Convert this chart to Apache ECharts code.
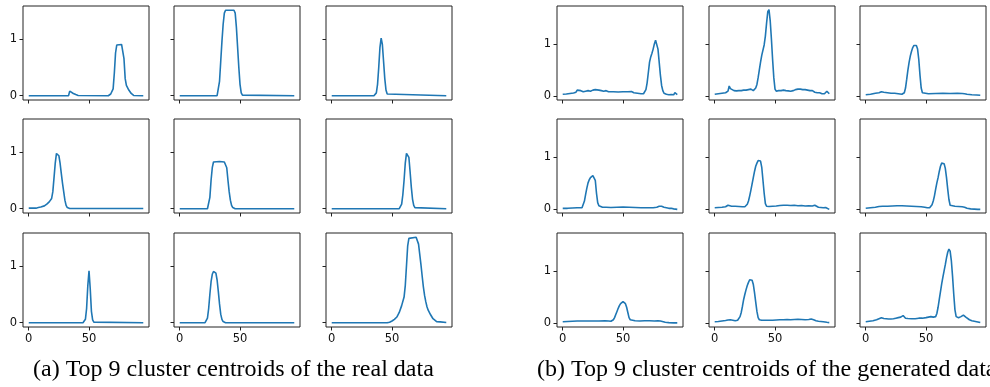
<!DOCTYPE html>
<html>
<head>
<meta charset="utf-8">
<script src="https://cdn.jsdelivr.net/npm/echarts@6/dist/echarts.min.js"></script>
<style>
  html, body { margin: 0; padding: 0; background: #fff; }
  #main { width: 990px; height: 387px; }
</style>
</head>
<body>
<div id="main"></div>
<script>
// centroid curves, [x, y] pairs
var real1 = [[0,0],[33,0],[34,0.08],[35,0.07],[37,0.04],[39,0.02],[41,0.005],[42,0],[66,0],[68,0.03],[70,0.12],[71,0.4],[72,0.75],[73,0.89],[74,0.9],[77,0.9],[78,0.88],[79,0.65],[80,0.3],[81,0.18],[83,0.1],[85,0.04],[87,0.005],[95,0]];
var real2 = [[0,0],[31,0],[32,0.02],[33,0.25],[34,0.6],[35,0.95],[36,1.25],[37,1.45],[38,1.5],[45,1.5],[46,1.45],[47,1.2],[48,0.85],[49,0.5],[50,0.2],[51,0.05],[52,0.01],[95,0]];
var real3 = [[0,0],[35,0],[36,0.01],[37,0.05],[38,0.2],[39,0.5],[40,0.85],[41,1.01],[42,0.9],[43,0.6],[44,0.3],[45,0.1],[46,0.03],[47,0],[95,0]];
var real4 = [[0,0.01],[6,0.01],[8,0.02],[10,0.03],[13,0.05],[15,0.08],[17,0.12],[19,0.18],[20,0.3],[21,0.55],[22,0.8],[23,0.97],[24,1.0],[25,0.93],[26,0.8],[27,0.62],[28,0.45],[29,0.3],[30,0.15],[31,0.06],[32,0.02],[34,0.005],[95,0.005]];
var real5 = [[0,0],[23,0],[24,0.03],[25,0.2],[26,0.5],[27,0.72],[28,0.82],[29,0.84],[33,0.83],[37,0.82],[38,0.8],[39,0.72],[40,0.5],[41,0.3],[42,0.15],[43,0.06],[44,0.02],[46,0],[95,0]];
var real6 = [[0,0],[56,0],[57,0.02],[58,0.08],[59,0.25],[60,0.5],[61,0.8],[62,0.97],[63,1.0],[64,0.9],[65,0.65],[66,0.38],[67,0.17],[68,0.06],[69,0.02],[70,0],[95,0]];
var real7 = [[0,0],[45,0],[46,0.01],[47,0.06],[48,0.25],[49,0.65],[50,0.91],[51,0.6],[52,0.2],[53,0.05],[54,0.01],[55,0],[95,0]];
var real8 = [[0,0],[21,0],[22,0.02],[23,0.08],[24,0.25],[25,0.5],[26,0.72],[27,0.85],[28,0.9],[29,0.9],[30,0.87],[31,0.75],[32,0.55],[33,0.33],[34,0.15],[35,0.06],[36,0.02],[38,0],[95,0]];
var real9 = [[0,0],[46,0],[48,0.01],[50,0.03],[52,0.06],[54,0.1],[56,0.18],[58,0.3],[60,0.45],[61,0.65],[62,1.0],[63,1.35],[64,1.48],[65,1.5],[70,1.5],[71,1.48],[72,1.38],[73,1.2],[74,1.02],[75,0.82],[76,0.63],[77,0.48],[78,0.37],[79,0.28],[80,0.22],[82,0.14],[84,0.07],[85,0.04],[87,0.02],[90,0.015],[95,0.005]];

var gen1 = [[0,0.03],[3,0.035],[6,0.045],[9,0.055],[11,0.07],[12,0.11],[13,0.09],[15,0.1],[17,0.08],[19,0.09],[21,0.1],[23,0.09],[25,0.11],[27,0.12],[28,0.13],[30,0.11],[32,0.1],[34,0.09],[36,0.1],[38,0.08],[42,0.08],[46,0.075],[50,0.08],[54,0.08],[57,0.085],[59,0.06],[62,0.05],[65,0.04],[67,0.04],[68,0.06],[69,0.12],[70,0.25],[71,0.45],[72,0.65],[73,0.75],[74,0.82],[75,0.9],[76,1.0],[77,1.07],[78,1.05],[79,0.9],[80,0.65],[81,0.4],[82,0.2],[83,0.1],[84,0.05],[86,0.03],[88,0.02],[90,0.025],[92,0.02],[93,0.06],[94,0.04],[95,0.025]];
var gen2 = [[0,0.03],[3,0.04],[6,0.05],[9,0.06],[11,0.09],[12,0.19],[13,0.14],[14,0.11],[16,0.1],[18,0.095],[20,0.1],[22,0.1],[24,0.11],[26,0.11],[28,0.12],[29,0.15],[30,0.13],[31,0.11],[32,0.1],[33,0.12],[34,0.15],[35,0.22],[36,0.35],[37,0.5],[38,0.65],[39,0.78],[40,0.88],[41,0.98],[42,1.15],[43,1.4],[44,1.62],[45,1.66],[46,1.45],[47,1.1],[48,0.7],[49,0.35],[50,0.13],[51,0.09],[53,0.1],[55,0.1],[57,0.11],[59,0.1],[61,0.095],[63,0.09],[65,0.1],[67,0.12],[69,0.13],[71,0.13],[73,0.12],[75,0.12],[77,0.11],[79,0.1],[81,0.1],[83,0.07],[85,0.06],[87,0.06],[89,0.04],[91,0.04],[92,0.03],[93,0.09],[94,0.07],[95,0.04]];
var gen3 = [[0,0.02],[4,0.03],[8,0.05],[11,0.06],[13,0.08],[15,0.07],[18,0.06],[21,0.05],[24,0.05],[27,0.04],[30,0.03],[31,0.03],[32,0.06],[33,0.15],[34,0.32],[35,0.5],[36,0.65],[37,0.77],[38,0.86],[39,0.93],[40,0.97],[41,0.99],[42,0.97],[43,0.9],[44,0.7],[45,0.4],[46,0.15],[47,0.06],[48,0.045],[52,0.04],[58,0.045],[64,0.05],[70,0.045],[76,0.05],[80,0.045],[82,0.04],[84,0.03],[88,0.02],[92,0.015],[95,0.01]];
var gen4 = [[0,0.01],[4,0.01],[8,0.015],[12,0.02],[16,0.02],[17,0.05],[18,0.15],[19,0.28],[20,0.4],[21,0.5],[22,0.56],[23,0.6],[24,0.62],[25,0.64],[26,0.66],[27,0.55],[28,0.3],[29,0.12],[30,0.06],[31,0.04],[33,0.03],[36,0.03],[40,0.025],[45,0.03],[50,0.035],[55,0.03],[60,0.025],[65,0.02],[70,0.02],[75,0.02],[78,0.03],[80,0.05],[81,0.07],[82,0.05],[84,0.03],[86,0.02],[88,0.01],[90,0.01],[92,0.0],[95,-0.01]];
var gen5 = [[0,0.02],[3,0.025],[6,0.03],[9,0.04],[11,0.07],[12,0.06],[14,0.05],[17,0.05],[20,0.045],[23,0.04],[25,0.04],[26,0.06],[27,0.09],[28,0.15],[29,0.25],[30,0.36],[31,0.48],[32,0.6],[33,0.72],[34,0.82],[35,0.88],[36,0.93],[37,0.96],[38,0.92],[39,0.8],[40,0.55],[41,0.3],[42,0.1],[43,0.05],[45,0.045],[48,0.05],[51,0.055],[54,0.065],[57,0.07],[60,0.07],[63,0.065],[66,0.07],[69,0.06],[72,0.065],[75,0.055],[78,0.06],[81,0.055],[83,0.07],[84,0.05],[86,0.03],[88,0.025],[90,0.02],[92,0.025],[93,0.01],[95,-0.01]];
var gen6 = [[0,0.01],[4,0.02],[8,0.03],[11,0.045],[14,0.05],[18,0.05],[22,0.055],[26,0.06],[30,0.06],[34,0.055],[38,0.05],[42,0.045],[46,0.04],[49,0.03],[51,0.02],[53,0.02],[54,0.04],[55,0.08],[56,0.15],[57,0.25],[58,0.38],[59,0.5],[60,0.6],[61,0.72],[62,0.82],[63,0.88],[64,0.9],[65,0.87],[66,0.78],[67,0.6],[68,0.38],[69,0.18],[70,0.07],[71,0.05],[74,0.05],[77,0.045],[80,0.04],[81,0.05],[82,0.03],[84,0.01],[87,0.0],[90,-0.005],[93,-0.01],[95,-0.01]];
var gen7 = [[0,0.02],[4,0.025],[8,0.03],[12,0.035],[16,0.035],[20,0.035],[25,0.035],[30,0.035],[35,0.04],[38,0.035],[40,0.03],[41,0.04],[42,0.06],[43,0.1],[44,0.16],[45,0.22],[46,0.28],[47,0.33],[48,0.37],[49,0.39],[50,0.41],[51,0.4],[52,0.37],[53,0.3],[54,0.2],[55,0.1],[56,0.06],[57,0.04],[60,0.04],[64,0.035],[68,0.04],[72,0.04],[76,0.035],[79,0.04],[81,0.035],[82,0.015],[85,0.01],[88,0.005],[92,0.0],[95,0.0]];
var gen8 = [[0,0.02],[3,0.025],[6,0.035],[9,0.045],[11,0.055],[12,0.07],[13,0.06],[15,0.05],[17,0.04],[19,0.05],[20,0.07],[21,0.12],[22,0.2],[23,0.32],[24,0.45],[25,0.55],[26,0.64],[27,0.72],[28,0.78],[29,0.83],[30,0.84],[31,0.82],[32,0.74],[33,0.58],[34,0.4],[35,0.22],[36,0.1],[37,0.06],[39,0.05],[42,0.05],[45,0.05],[48,0.05],[51,0.055],[54,0.06],[57,0.06],[60,0.065],[63,0.06],[66,0.065],[69,0.07],[72,0.065],[75,0.06],[78,0.065],[80,0.075],[81,0.09],[82,0.06],[84,0.04],[86,0.03],[88,0.025],[90,0.02],[93,0.01],[95,0.005]];
var gen9 = [[0,0.02],[3,0.03],[6,0.04],[9,0.06],[11,0.08],[12,0.1],[13,0.1],[15,0.085],[17,0.08],[19,0.075],[21,0.075],[23,0.08],[25,0.09],[27,0.1],[29,0.11],[30,0.13],[31,0.14],[32,0.11],[33,0.09],[35,0.085],[38,0.08],[41,0.08],[44,0.09],[47,0.09],[50,0.1],[52,0.11],[54,0.12],[56,0.11],[58,0.12],[59,0.18],[60,0.3],[61,0.45],[62,0.6],[63,0.75],[64,0.88],[65,1.0],[66,1.12],[67,1.25],[68,1.36],[69,1.42],[70,1.38],[71,1.2],[72,0.9],[73,0.55],[74,0.25],[75,0.12],[76,0.1],[77,0.1],[78,0.11],[79,0.12],[80,0.14],[81,0.15],[82,0.14],[83,0.11],[84,0.08],[86,0.06],[88,0.04],[90,0.03],[92,0.02],[94,0.01],[95,0.005]];

var xTicks = [0, 50];
var yTicks = [0, 1];
var captions = ['(a) Top 9 cluster centroids of the real data', '(b) Top 9 cluster centroids of the generated data'];

var panels = [
  { curves: [real1, real2, real3, real4, real5, real6, real7, real8, real9], lefts: [23, 174, 326], yMin: -0.075, yMax: 1.575 },
  { curves: [gen1, gen2, gen3, gen4, gen5, gen6, gen7, gen8, gen9], lefts: [557, 709, 860], yMin: -0.08, yMax: 1.73 }
];
var tops = [6, 119, 233];
var boxW = 126, boxH = 94;

var myChart = echarts.init(document.getElementById('main'));
var grids = [], xAxes = [], yAxes = [], series = [];
var tickFont = { fontFamily: 'DejaVu Sans', fontSize: 11.5, color: '#111' };

panels.forEach(function (p) {
  p.curves.forEach(function (curve, k) {
    var row = Math.floor(k / 3), col = k % 3;
    var i = grids.length;
    grids.push({
      left: p.lefts[col], top: tops[row], width: boxW, height: boxH,
      show: true, borderColor: '#222', borderWidth: 1, backgroundColor: 'transparent'
    });
    xAxes.push({
      type: 'value', gridIndex: i, min: -4.75, max: 99.75,
      axisLine: { show: false, onZero: false },
      axisTick: { show: true, length: 3.5, lineStyle: { color: '#222' }, customValues: xTicks },
      axisLabel: Object.assign({ show: row === 2, margin: 6, customValues: xTicks }, tickFont),
      splitLine: { show: false }
    });
    yAxes.push({
      type: 'value', gridIndex: i, min: p.yMin, max: p.yMax,
      axisLine: { show: false, onZero: false },
      axisTick: { show: true, length: 3.5, lineStyle: { color: '#222' }, customValues: yTicks },
      axisLabel: Object.assign({ show: col === 0, margin: 6, customValues: yTicks }, tickFont),
      splitLine: { show: false }
    });
    series.push({
      type: 'line', xAxisIndex: i, yAxisIndex: i, data: curve,
      showSymbol: false, silent: true,
      lineStyle: { color: '#1f77b4', width: 1.6 }
    });
  });
});

var option = {
  animation: false,
  grid: grids,
  xAxis: xAxes,
  yAxis: yAxes,
  series: series,
  graphic: [
    { type: 'text', left: 33, top: 358, style: { text: captions[0], font: '24px "Liberation Serif"', fill: '#000' } },
    { type: 'text', left: 537, top: 358, style: { text: captions[1], font: '24px "Liberation Serif"', fill: '#000' } }
  ]
};
myChart.setOption(option);
</script>
</body>
</html>
